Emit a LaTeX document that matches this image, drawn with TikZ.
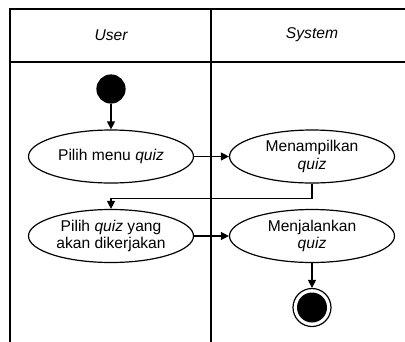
\documentclass[tikz,border=0pt]{standalone}
\usepackage{fontspec}
\setmainfont{Liberation Sans}
\usetikzlibrary{shapes.geometric,arrows.meta}

\begin{document}
\begin{tikzpicture}[x=1pt,y=-1pt,line width=1.2pt]
\tikzstyle{every node} = [font=\fontsize{15.6}{17.5}\selectfont]
\tikzstyle{activity} = [draw, shape=ellipse, minimum width=165pt, minimum height=53pt, inner sep=0pt, align=center]
\tikzstyle{flow} = [-{Triangle[length=8pt,width=8pt]}]
\useasboundingbox (0,0) rectangle (405,341);
\clip (0,0) rectangle (405,341);

% swimlanes
\draw (10,9) rectangle (420,360);
\draw (10,62) -- (420,62);
\draw (211,9) -- (211,360);
\node (user) at (111,35) {\itshape User};
\node (system) at (312,35) {\itshape System};

% states
\node [draw, shape=circle, fill=black, minimum size=28pt, inner sep=0pt] (start) at (111,89) {};
\node [activity] (menu) at (111,156.5) {Pilih menu \textit{quiz}};
\node [activity] (tampil) at (312,156.5) {Menampilkan\\\textit{quiz}};
\node [activity] (pilih) at (111,236) {Pilih \textit{quiz} yang\\akan dikerjakan};
\node [activity] (jalan) at (312,236) {Menjalankan\\\textit{quiz}};
\node [draw, shape=circle, minimum size=38pt, inner sep=0pt] (stop) at (312,307.5) {};
\node [shape=circle, fill=black, minimum size=30pt, inner sep=0pt] (stopin) at (312,307.5) {};

% transitions
\draw [flow] (start) to (menu);
\draw [flow] (menu) to (tampil);
\draw [flow] (tampil.south) -- ++(0,15) -| (pilih.north);
\draw [flow] (pilih) to (jalan);
\draw [flow] (jalan) to (stop);
\end{tikzpicture}
\end{document}
